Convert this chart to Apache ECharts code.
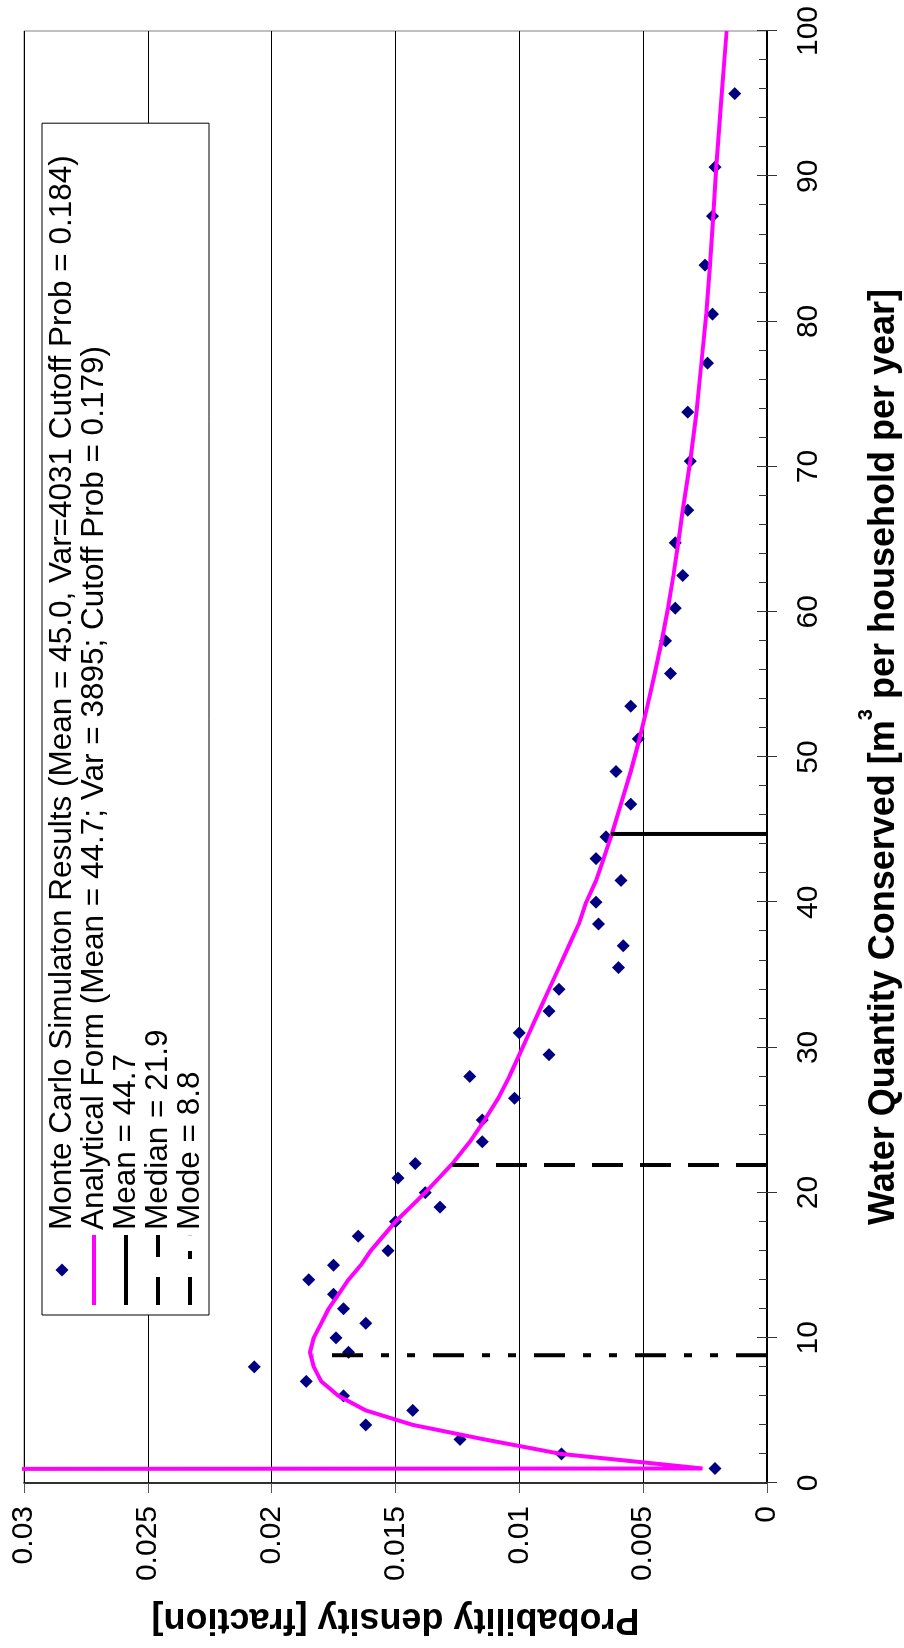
<!DOCTYPE html>
<html>
<head>
<meta charset="utf-8">
<script src="https://cdn.jsdelivr.net/npm/echarts@6/dist/echarts.min.js"></script>
<style>
html,body{margin:0;padding:0;width:904px;height:1648px;overflow:hidden;background:#fff;}
#wrap{position:absolute;left:0;top:0;width:1648px;height:904px;transform-origin:0 0;transform:translate(0px,1648px) rotate(-90deg);}
#chart{width:1648px;height:904px;}
</style>
</head>
<body>
<div id="wrap"><div id="chart"></div></div>
<script>
// Water quantity conserved (x) for Monte Carlo points
const mcWater = [1,2,3,4,5,6,7,8,9,10,11,12,13,14,15,16,17,18,19,20,21,22,
  23.5,25,26.5,28,29.5,31,32.5,34,35.5,37,38.5,40,41.5,43,44.5,
  46.75,49,51.25,53.5,55.75,58,60.25,62.5,64.75,67,
  70.375,73.75,77.125,80.5,83.875,87.25,90.625,95.6875];
const mcDensity = [0.0021,0.0083,0.0124,0.0162,0.0143,0.0171,0.0186,0.0207,0.0169,0.0174,0.0162,0.0171,0.0175,0.0185,0.0175,0.0153,0.0165,0.0150,0.0132,0.0138,0.0149,0.0142,
  0.0115,0.0115,0.0102,0.0120,0.0088,0.0100,0.0088,0.0084,0.0060,0.0058,0.0068,0.0069,0.0059,0.0069,0.0065,
  0.0055,0.0061,0.0052,0.0055,0.0039,0.0041,0.0037,0.0034,0.0037,0.0032,
  0.0031,0.0032,0.0024,0.0022,0.0025,0.0022,0.0021,0.0013];

// Analytical form
const curveWater = [0,1,2,3,4,5,6,7,8,9,10,11,12,13,14,15,16,17,18,19,20,21,22,
  23.5,25,26.5,28,29.5,31,32.5,34,35.5,37,38.5,40,41.5,43,44.5,
  46.75,49,51.25,53.5,55.75,58,60.25,62.5,64.75,67,
  70.375,73.75,77.125,80.5,83.875,87.25,90.625,95.6875,100];
const curveDensity = [1.0,0.0026,0.0083,0.0114,0.0143,0.0162,0.0173,0.0180,0.0183,0.01845,0.0183,0.0180,0.0177,0.0173,0.0169,0.0164,0.0160,0.0155,0.0150,0.0144,0.0138,0.01325,0.0127,
  0.0120,0.0114,0.01085,0.0104,0.0100,0.0096,0.0092,0.0088,0.0084,0.0080,0.0076,0.0073,0.0069,0.0066,0.0063,
  0.0059,0.0055,0.00515,0.00483,0.00453,0.00425,0.0040,0.00378,0.00358,0.0034,
  0.0031,0.00285,0.00265,0.00245,0.0023,0.00217,0.00205,0.00183,0.00163];

// Statistic marker lines: [x, top density]
const meanLine = [44.7, 0.0063];
const medianLine = [21.9, 0.0127];
const modeLine = [8.8, 0.0183];

const seriesNames = [
  'Monte Carlo Simulaton Results (Mean = 45.0, Var=4031 Cutoff Prob = 0.184)',
  'Analytical Form (Mean = 44.7; Var = 3895; Cutoff Prob = 0.179)',
  'Mean = 44.7',
  'Median = 21.9',
  'Mode = 8.8'
];
const densityTickLabels = ['0','0.005','0.01','0.015','0.02','0.025','0.03'];
const xTitle = 'Water Quantity Conserved [m{sup|3} per household per year]';
const yTitle = 'Probability density [fraction]';

const FONT = "'Liberation Sans', Arial, Helvetica, sans-serif";
const mcPoints = mcWater.map((x, i) => [x, mcDensity[i]]);
const curvePoints = curveWater.map((x, i) => [x, curveDensity[i]]);
const vline = (p) => [[p[0], 0], [p[0], p[1]]];

// legend icon shapes (drawn by the legend component)
const legendIcons = [
  'path://M6.5,0L13,6.5L6.5,13L0,6.5Z',
  'path://M0,0h70v4h-70z',
  'path://M0,0h70v4h-70z',
  'path://M0,0h28v4h-28z M48,0h22v4h-22z',
  'path://M0,0h28v4h-28z M46,0h8v4h-8z M69.8,0h0.2v4h-0.2z'
];
const legendColors = ['#000080', '#ff00ff', '#000', '#000', '#000'];

const chart = echarts.init(document.getElementById('chart'), null, {renderer: 'canvas'});
chart.setOption({
  animation: false,
  backgroundColor: '#fff',
  textStyle: {fontFamily: FONT},
  grid: {left: 165, right: 31, top: 24, bottom: 137, containLabel: false, outerBoundsMode: 'none',
    show: true, borderColor: '#808080', borderWidth: 1, backgroundColor: 'transparent'},
  legend: {
    orient: 'vertical', left: 333, top: 42, padding: [4, 32, 3, 10], itemGap: 0,
    itemWidth: 70, itemHeight: 13, symbolKeepAspect: true,
    backgroundColor: '#fff', borderColor: '#000', borderWidth: 1,
    selectedMode: false,
    textStyle: {fontFamily: FONT, fontSize: 31.5, lineHeight: 31.4, color: '#000'},
    data: seriesNames.map((n, i) => ({name: n, icon: legendIcons[i],
      itemStyle: {color: legendColors[i], borderWidth: 0, opacity: 1}}))
  },
  xAxis: [
    {type: 'value', min: 0, max: 100, interval: 10, position: 'bottom',
     axisLine: {show: true, onZero: false, lineStyle: {color: '#000', width: 2}},
     axisTick: {show: true, inside: false, length: 10, lineStyle: {color: '#333', width: 1}},
     axisLabel: {show: true, margin: 27, fontSize: 30, color: '#000', fontFamily: FONT},
     splitLine: {show: false},
     name: xTitle, nameLocation: 'middle', nameGap: 89,
     nameTextStyle: {fontSize: 36, fontWeight: 'bold', color: '#000', fontFamily: FONT,
       rich: {sup: {fontSize: 20, fontWeight: 'bold', color: '#000', fontFamily: FONT, padding: [0, 0, 37, 0]}}}
    },
    {type: 'value', min: 0, max: 100, interval: 10, position: 'bottom',
     axisLine: {show: false, onZero: false},
     axisTick: {show: true, inside: true, length: 10, lineStyle: {color: '#333', width: 1}},
     minorTick: {show: true, splitNumber: 5, length: 8, lineStyle: {color: '#333', width: 1}},
     axisLabel: {show: false}, splitLine: {show: false}
    }
  ],
  yAxis: {
    type: 'value', min: 0, max: 0.03, interval: 0.005,
    axisLine: {show: true, onZero: false, lineStyle: {color: '#000', width: 1.5}},
    axisTick: {show: true, inside: false, length: 10, lineStyle: {color: '#555', width: 1}},
    axisLabel: {margin: 23, fontSize: 30, color: '#000', fontFamily: FONT,
      formatter: (v) => densityTickLabels[Math.round(v / 0.005)]},
    splitLine: {show: true, lineStyle: {color: '#000', width: 1}},
    name: yTitle, nameLocation: 'middle', nameGap: 118,
    nameTextStyle: {fontSize: 36, fontWeight: 'bold', color: '#000', fontFamily: FONT}
  },
  series: [
    {name: seriesNames[0], type: 'scatter', data: mcPoints, symbol: 'diamond', symbolSize: 13,
     itemStyle: {color: '#000080', opacity: 1}, emphasis: {disabled: true}},
    {name: seriesNames[1], type: 'line', data: curvePoints, symbol: 'none', showSymbol: false, clip: true,
     lineStyle: {color: '#ff00ff', width: 4}, itemStyle: {color: '#ff00ff'}, emphasis: {disabled: true}},
    {name: seriesNames[2], type: 'line', data: vline(meanLine), symbol: 'none', showSymbol: false,
     lineStyle: {color: '#000', width: 4, type: 'solid'}, itemStyle: {color: '#000'}, emphasis: {disabled: true}},
    {name: seriesNames[3], type: 'line', data: vline(medianLine), symbol: 'none', showSymbol: false,
     lineStyle: {color: '#000', width: 4, type: [31, 17]}, itemStyle: {color: '#000'}, emphasis: {disabled: true}},
    {name: seriesNames[4], type: 'line', data: vline(modeLine), symbol: 'none', showSymbol: false,
     lineStyle: {color: '#000', width: 4, type: [31, 18, 8, 18, 8, 18]}, itemStyle: {color: '#000'}, emphasis: {disabled: true}}
  ]
});
</script>
</body>
</html>
